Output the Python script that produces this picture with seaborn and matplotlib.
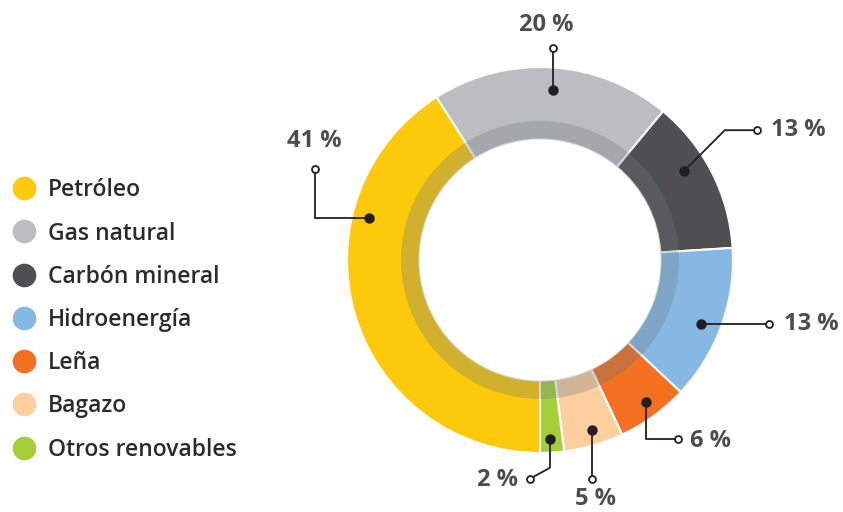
import numpy as np
import matplotlib.pyplot as plt
import seaborn as sns
from matplotlib.lines import Line2D

# Data
fuentes = ["Petróleo", "Gas natural", "Carbón mineral", "Hidroenergía",
           "Leña", "Bagazo", "Otros renovables"]
porcentajes = [41, 20, 13, 13, 6, 5, 2]
etiquetas = ["41 %", "20 %", "13 %", "13 %", "6 %", "5 %", "2 %"]
colores = ["#FCC90B", "#BCBDC0", "#4F4F51", "#85B9E3", "#F37021", "#FDCF9E", "#A6CE39"]

sns.set_theme(style="white")
plt.rcParams["font.family"] = ["Open Sans", "DejaVu Sans"]

PX = 193.0  # pixels per radius unit
fig = plt.figure(figsize=(8.43, 5.12), dpi=100)
ax = fig.add_axes([0, 0, 1, 1])

palette = sns.color_palette(colores)
wedges, _ = ax.pie(porcentajes, colors=palette, startangle=-90, counterclock=False,
                   radius=1.0,
                   wedgeprops=dict(width=(193 - 120.5) / PX, edgecolor="white", linewidth=1.5))
# darker inner band
ax.pie([1], radius=139 / PX, colors=[(0.43, 0.47, 0.51, 0.30)],
       wedgeprops=dict(width=(139 - 120.5) / PX, linewidth=0))

# leader lines: dot angle offset (deg), dot radius (px), path steps (px), label offset (px), align
offsets = [-30, -0.8, 4.7, -2, 0.7, 0.8, -0.4]
radios = [176, 171, 169, 173, 177, 178, 179]
caminos = [[(-54, 0), (0, 49)],
           [(0, 42)],
           [(41, 41), (32, 0)],
           [(68, 0)],
           [(0, -37), (32, 0)],
           [(0, -49)],
           [(0, -29), (-20, -11)]]
label_off = [((-1, 28), "center"), ((-7, 23), "center"), ((14, 0), "left"),
             ((15, 0), "left"), ((12, -2), "left"), ((3, -20), "center"), ((-12, -1), "right")]

for w, off, r, path, (lo, ha), txt in zip(wedges, offsets, radios, caminos, label_off, etiquetas):
    ang = np.deg2rad((w.theta1 + w.theta2) / 2 + off)
    x0, y0 = r * np.cos(ang) / PX, r * np.sin(ang) / PX
    xs, ys = [x0], [y0]
    for dx, dy in path:
        xs.append(xs[-1] + dx / PX)
        ys.append(ys[-1] + dy / PX)
    ax.plot(xs, ys, color="#231F20", lw=1.3, zorder=5)
    ax.plot(x0, y0, "o", color="#231F20", ms=6.5, zorder=6)
    ax.plot(xs[-1], ys[-1], "o", mfc="white", mec="#231F20", mew=1.3, ms=5, zorder=6)
    ax.text(xs[-1] + lo[0] / PX, ys[-1] + lo[1] / PX, txt, ha=ha, va="center",
            fontsize=17, fontweight="bold", color="#4D4D4F")

ax.set_xlim(-540 / PX, 303 / PX)
ax.set_ylim(-252 / PX, 260 / PX)
ax.set_aspect("equal")
ax.axis("off")

handles = [Line2D([], [], marker="o", ls="", color=c, ms=16) for c in colores]
fig.legend(handles, fuentes, loc="center left", bbox_to_anchor=(0.0, 0.375),
           frameon=False, prop={"size": 16.5, "weight": "semibold"}, labelcolor="#2B2B2B",
           handletextpad=0.7, labelspacing=0.84, handlelength=0.7, borderaxespad=0.3)

plt.savefig("out.png", dpi=100)
